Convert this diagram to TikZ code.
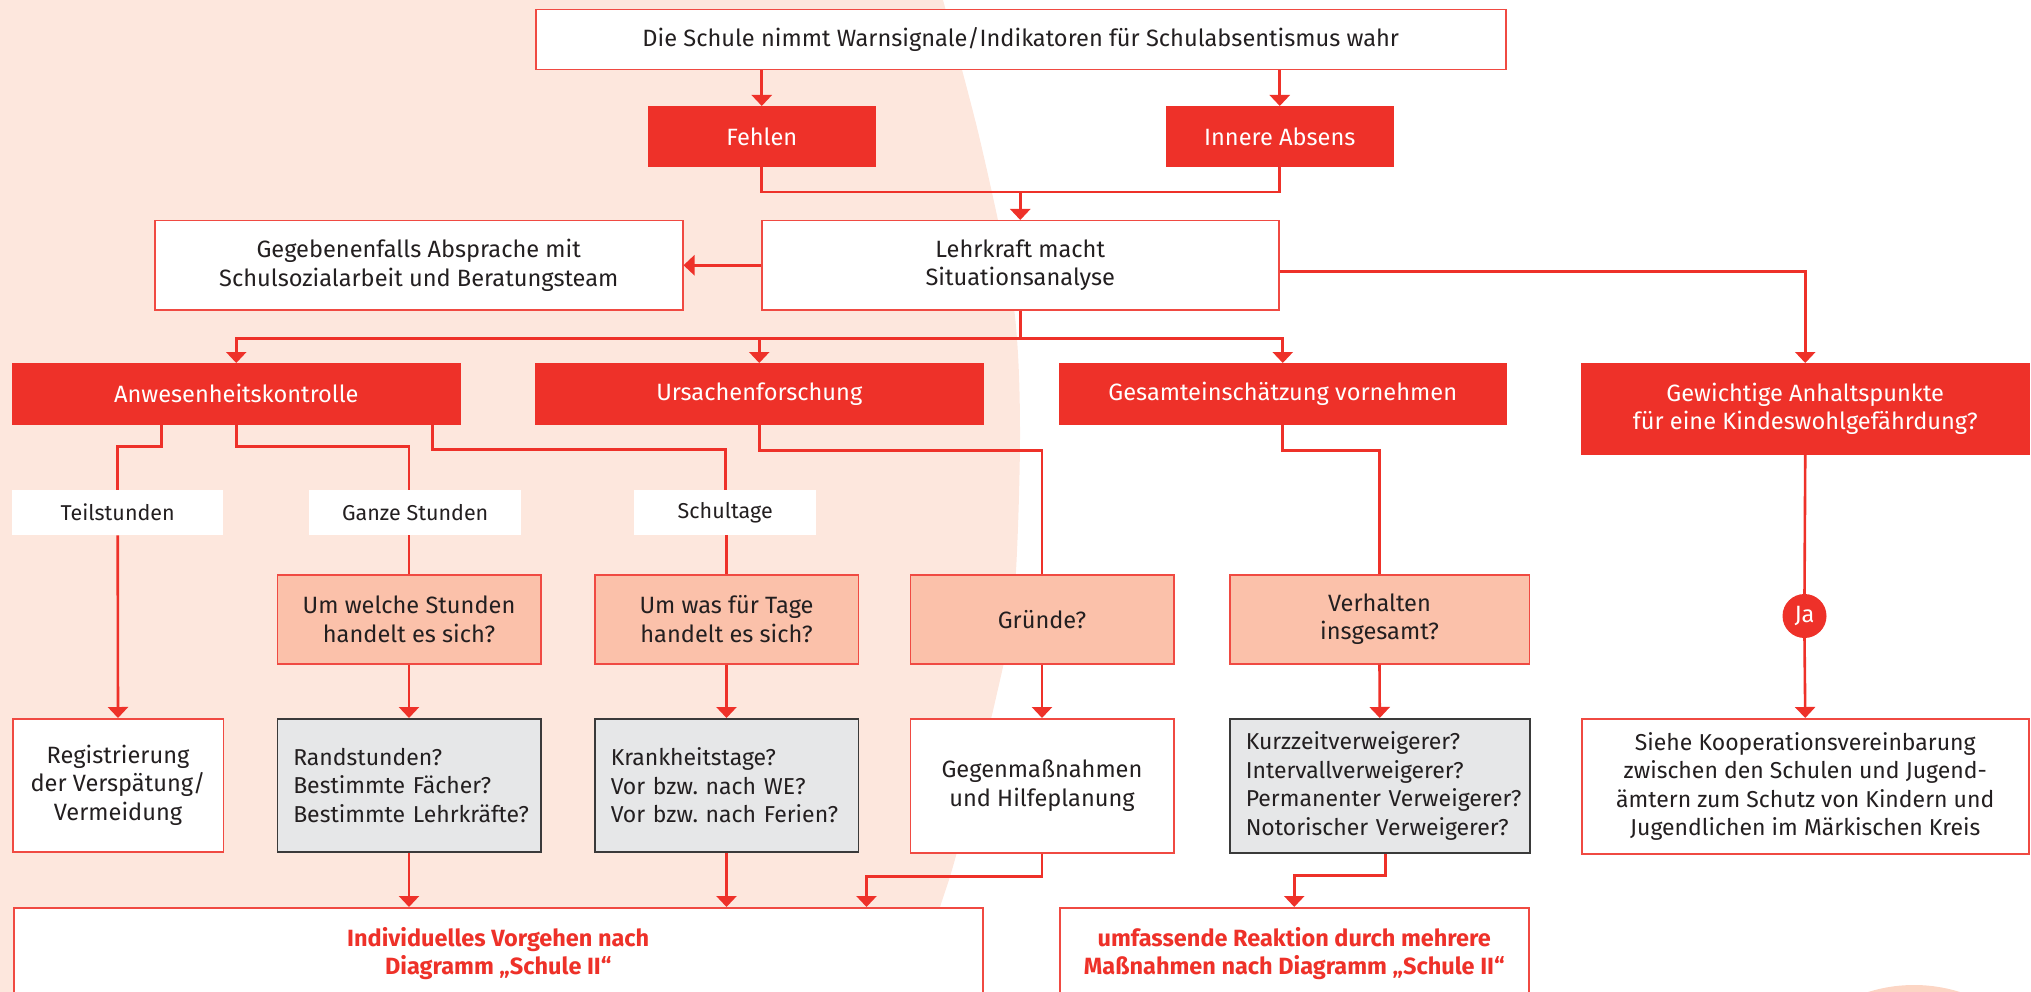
\documentclass[tikz,border=0pt]{standalone}
\usepackage{fontspec}
\setmainfont{Fira Sans}
\usetikzlibrary{arrows.meta,calc}
\frenchspacing
\definecolor{fred}{HTML}{EE3129}
\definecolor{fborder}{HTML}{F04A42}
\definecolor{fsalmon}{HTML}{FBC1AA}
\definecolor{fgray}{HTML}{E6E7E8}
\definecolor{fdark}{HTML}{3A3A3A}
\definecolor{fpeach}{HTML}{FDE7DD}
\definecolor{fcircle}{HTML}{FCD5C4}
\definecolor{ftext}{HTML}{231F20}
\begin{document}
\begin{tikzpicture}[x=1pt,y=-1pt,
  every node/.style={inner sep=0pt, font=\fontsize{23.6}{28.5}\selectfont, text=ftext, align=center},
  bx/.style={draw=fborder, line width=1.5pt, anchor=north west},
  wbox/.style={bx, fill=white},
  rbox/.style={bx, fill=fred, draw=fred, text=white},
  sbox/.style={bx, fill=fsalmon},
  gbox/.style={bx, fill=fgray, draw=fdark, align=left, inner xsep=16pt, font=\fontsize{23}{28.5}\selectfont},
  lbl/.style={anchor=north west, fill=white, font=\fontsize{21.5}{25}\selectfont},
  endbox/.style={bx, fill=white, text=fred, font=\fontsize{23.5}{28.5}\selectfont\bfseries},
  conn/.style={draw=fred, line width=2.6pt},
  arr/.style={conn, -{Triangle[width=20pt,length=11pt]}},
]
\useasboundingbox (0,0) rectangle (2031,992);
\begin{scope}
\clip (0,0) rectangle (2031,992);
% background
\fill[fpeach] (0,0) -- plot[smooth] coordinates {(943,0) (980,140) (1013,300) (1020,430) (1014,600) (995,702) (957,852) (940,907) (912,992)} -- (0,992) -- cycle;
\fill[fcircle] (1914,1138) circle (153);

% nodes
\node[wbox, minimum width=970, minimum height=60] (top) at (535,9) {Die Schule nimmt Warnsignale/Indikatoren für Schulabsentismus wahr};
\node[rbox, minimum width=226, minimum height=60] (feh) at (648,106) {Fehlen};
\node[rbox, minimum width=226, minimum height=60] (inn) at (1166,106) {Innere Absens};
\node[wbox, minimum width=517, minimum height=89] (lehr) at (761,220) {Lehrkraft macht\\Situationsanalyse};
\node[wbox, minimum width=528, minimum height=89] (geg) at (154,220) {Gegebenenfalls Absprache mit\\Schulsozialarbeit und Beratungsteam};
\node[rbox, minimum width=447, minimum height=60] (anw) at (12,363) {Anwesenheitskontrolle};
\node[rbox, minimum width=447, minimum height=60] (urs) at (535,363) {Ursachenforschung};
\node[rbox, minimum width=446, minimum height=60] (ges) at (1059,363) {Gesamteinschätzung vornehmen};
\node[rbox, minimum width=447, minimum height=90] (gew) at (1581,363) {Gewichtige Anhaltspunkte\\für eine Kindeswohlgefährdung?};

\node[lbl, minimum width=211, minimum height=45] (teil) at (12,490) {Teilstunden};
\node[lbl, minimum width=212, minimum height=45] (ganze) at (309,490) {Ganze Stunden};
\node[lbl, minimum width=182, minimum height=45] (schul) at (634,490) {Schultage};

\node[sbox, minimum width=263.5, minimum height=89] (umwelche) at (276.5,574) {Um welche Stunden\\handelt es sich?};
\node[sbox, minimum width=263.5, minimum height=89] (umwas) at (594,574) {Um was für Tage\\handelt es sich?};
\node[sbox, minimum width=263.5, minimum height=89] (gruende) at (909.5,574) {Gründe?};
\node[sbox, minimum width=299.5, minimum height=89] (verh) at (1229,574) {Verhalten\\insgesamt?};

\node[wbox, minimum width=210.5, minimum height=133] (reg) at (12,718) {Registrierung\\der Verspätung/\\Vermeidung};
\node[gbox, text width=231.5, minimum width=263.5, minimum height=133] (rand) at (276.5,718) {\mbox{Randstunden?}\\\mbox{Bestimmte Fächer?}\\\mbox{Bestimmte Lehrkräfte?}};
\node[gbox, text width=231.5, minimum width=263.5, minimum height=133] (krank) at (594,718) {\mbox{Krankheitstage?}\\\mbox{Vor bzw. nach WE?}\\\mbox{Vor bzw. nach Ferien?}};
\node[wbox, minimum width=263.5, minimum height=134] (gegen) at (909.5,718) {Gegenmaßnahmen\\und Hilfeplanung};
\node[gbox, text width=268, minimum width=300, minimum height=134] (kurz) at (1229,718) {\mbox{Kurzzeitverweigerer?}\\\mbox{Intervallverweigerer?}\\\mbox{Permanenter Verweigerer?}\\\mbox{Notorischer Verweigerer?}};
\node[wbox, minimum width=447, minimum height=135, font=\fontsize{23}{28.5}\selectfont] (siehe) at (1581,718) {Siehe Kooperationsvereinbarung\\zwischen den Schulen und Jugend-\\ämtern zum Schutz von Kindern und\\Jugendlichen im Märkischen Kreis};

\node[endbox, minimum width=969, minimum height=92] (indiv) at (13,907) {Individuelles Vorgehen nach\\Diagramm „Schule II“};
\node[endbox, minimum width=469, minimum height=92] (umf) at (1059,907) {umfassende Reaktion durch mehrere\\Maßnahmen nach Diagramm „Schule II“};

\node[circle, fill=fred, text=white, minimum size=44] (ja) at (1804.5,616) {Ja};

% connectors
\draw[arr] (top.south -| feh.north) -- (feh.north);
\draw[arr] (top.south -| inn.north) -- (inn.north);
\coordinate (merge) at ([yshift=28pt]lehr.north);
\draw[conn] (feh.south) |- (merge) -| (inn.south);
\draw[arr] (merge) -- (lehr.north);
\draw[arr] (lehr.west) -- (geg.east);
\draw[arr] ([yshift=-6.5pt]lehr.east) -| (gew.north);
\draw[arr] (lehr.south) -- ++(0,28) -| (anw.north);
\draw[arr] (lehr.south) -- ++(0,28) -| (urs.north);
\draw[arr] (lehr.south) -- ++(0,28) -| (ges.north);

\draw[conn] ([xshift=-74.5pt]anw.south) -- ++(0,22) -| (teil.north);
\draw[conn] (anw.south) -- ++(0,22) -| (ganze.north -| umwelche.north);
\draw[conn] ([xshift=196.5pt]anw.south) -- ++(0,25) -| (schul.north);
\draw[conn] (urs.south) -- ++(0,26) -| (gruende.north);
\draw[conn] (ges.south) -- ++(0,26) -| (verh.north);

\draw[arr] (teil.south) -- (reg.north);
\draw[conn] (ganze.south -| umwelche.north) -- (umwelche.north);
\draw[conn] (schul.south -| umwas.north) -- (umwas.north);
\draw[arr] (umwelche.south) -- (rand.north);
\draw[arr] (umwas.south) -- (krank.north);
\draw[arr] (gruende.south) -- (gegen.north);
\draw[arr] (verh.south) -- (kurz.north);

\draw[arr] (rand.south) -- (rand.south |- indiv.north);
\draw[arr] (krank.south) -- (krank.south |- indiv.north);
\draw[arr] (gegen.south) -- ++(0,23) -| ([xshift=-117pt]indiv.north east);
\draw[arr] ([xshift=6pt]kurz.south) -- ++(0,22) -| (umf.north);

\draw[conn] (gew.south) -- (ja.north);
\draw[arr] (ja.south) -- (siehe.north);
\end{scope}
\end{tikzpicture}
\end{document}
